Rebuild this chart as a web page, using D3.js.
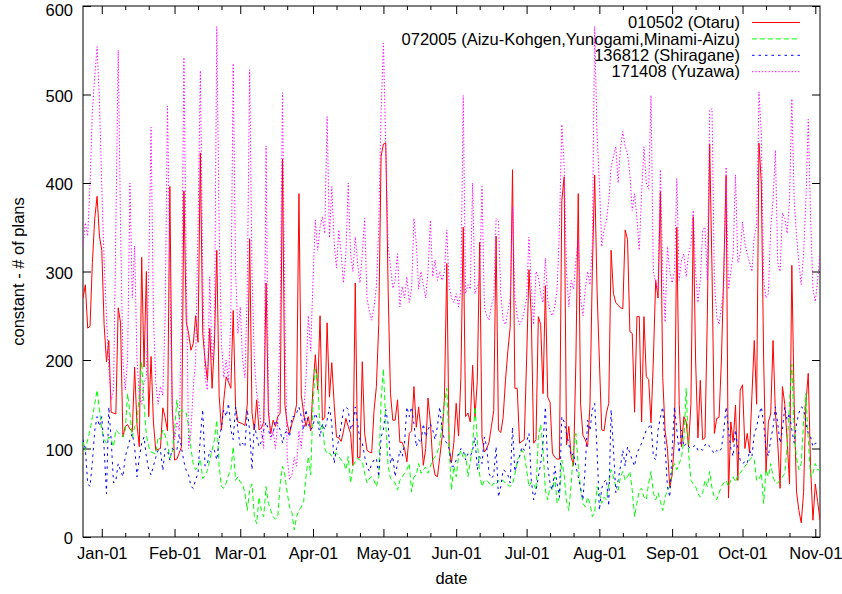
<!DOCTYPE html>
<html>
<head>
<meta charset="utf-8">
<script src="https://cdn.jsdelivr.net/npm/d3@7"></script>
<style>
  body { margin: 0; background: #fff; }
  svg { display: block; }
  text { font-family: "Liberation Sans", Arial, Helvetica, sans-serif; fill: #000; }
</style>
</head>
<body>
<svg id="chart" width="842" height="594"></svg>
<script>
// Daily number of plans per area, first day 2008-12-24
const firstDay = "2008-12-24";

const otaru = [
  270,285,236,238,310,360,385,340,324,240,
  198,222,141,140,139,259,242,113,125,127,
  122,119,192,127,102,316,192,300,136,204,
  130,98,99,100,146,135,120,396,150,87,
  88,95,102,391,243,230,211,219,250,220,
  434,230,200,177,236,168,219,324,160,121,
  155,181,175,168,256,147,130,129,128,126,
  150,337,140,121,155,121,123,130,287,140,
  117,132,125,136,140,427,150,128,117,128,
  136,150,388,160,140,125,136,120,170,206,
  166,250,132,135,242,158,197,151,113,112,
  108,120,134,125,117,81,287,90,90,198,
  117,98,96,95,143,170,240,430,444,445,
  280,162,132,132,155,107,107,100,85,117,
  120,170,124,147,120,81,100,157,130,85,
  70,68,90,113,158,309,100,84,107,151,
  114,180,350,136,140,130,194,135,177,333,
  113,96,100,107,125,143,340,121,118,135,
  177,210,237,415,168,168,106,108,110,200,
  302,249,106,110,249,240,162,284,158,152,
  95,90,88,88,380,407,104,125,90,81,
  200,388,150,115,110,102,149,300,409,280,
  200,121,120,140,151,324,275,265,262,259,
  258,347,336,232,230,141,249,249,130,249,
  181,178,129,200,290,270,390,180,120,100,
  56,70,110,350,150,102,136,130,102,150,
  362,200,112,177,110,112,250,444,300,117,
  134,135,200,300,408,44,130,107,149,64,
  166,172,100,117,95,160,222,150,445,400,
  200,73,130,139,222,140,106,55,170,150,
  110,60,307,150,51,30,16,50,151,185,
  78,19,60,40,19
];

const aizu = [
  108,98,110,121,136,150,166,144,121,110,
  106,113,110,102,121,118,115,113,120,162,
  140,113,125,128,162,198,150,115,102,96,
  95,94,113,110,121,115,106,89,95,120,
  155,133,144,140,140,125,100,82,76,80,
  88,66,70,75,87,98,110,132,80,57,
  55,61,70,76,102,64,68,62,60,49,
  30,53,60,23,15,45,30,23,57,38,
  30,23,20,23,60,80,70,50,34,28,
  8,23,30,34,40,68,91,70,150,190,
  177,121,128,100,94,95,91,94,95,91,
  87,85,76,91,61,80,85,89,87,85,
  72,61,66,68,64,57,68,155,190,128,
  80,66,64,61,53,64,68,72,76,83,
  51,68,70,83,72,76,79,72,80,87,
  91,96,105,128,150,168,100,53,80,68,
  91,98,90,94,68,85,102,147,110,70,
  57,64,64,61,57,61,59,64,62,64,
  60,59,57,60,70,87,91,98,94,76,
  57,62,60,53,113,127,100,53,42,57,
  53,68,38,45,87,70,40,30,60,100,
  117,80,55,38,34,45,38,23,28,57,
  50,38,45,42,60,76,68,57,53,68,
  74,64,68,74,53,23,38,53,55,45,
  42,61,74,50,42,50,40,30,45,53,
  57,76,83,76,83,90,110,168,95,64,
  60,57,49,45,50,64,57,74,55,45,
  42,50,57,61,64,57,64,68,62,70,
  72,76,80,83,87,90,87,64,65,72,
  38,76,68,83,68,61,61,64,68,72,
  102,150,195,120,89,76,83,130,162,110,
  68,72,83,76,76
];

const shiragane = [
  110,100,60,57,85,120,136,125,136,100,
  49,147,110,61,64,83,75,68,91,100,
  110,117,102,68,90,106,113,91,76,70,
  80,90,98,98,75,100,98,87,100,98,
  98,117,100,85,75,70,57,55,65,72,
  113,144,80,83,98,95,98,87,110,125,
  144,136,151,121,110,147,121,102,106,102,
  144,120,76,128,113,102,108,121,130,121,
  113,117,132,128,121,106,117,121,113,136,
  136,140,147,136,121,144,128,121,125,140,
  132,113,128,121,132,147,128,83,100,110,
  125,144,147,144,121,128,147,128,110,106,
  91,80,74,83,87,89,68,113,121,144,
  128,83,91,68,83,98,91,106,147,136,
  147,128,102,110,106,128,113,121,128,121,
  110,125,147,121,110,106,100,80,80,87,
  94,100,98,87,94,91,98,113,76,91,
  83,113,102,72,66,70,102,45,57,76,
  74,70,61,124,74,83,91,102,98,108,
  117,64,42,53,68,83,106,147,80,60,
  53,80,60,45,136,130,117,105,91,95,
  80,68,55,42,80,132,120,144,151,100,
  30,55,62,65,35,144,100,50,64,80,
  98,80,102,95,87,80,95,100,106,113,
  121,124,128,91,87,121,135,147,102,57,
  45,98,147,121,95,121,102,106,102,100,
  102,104,98,100,98,104,106,102,98,94,
  98,96,100,120,147,121,100,91,121,100,
  87,83,85,83,98,91,117,124,138,147,
  128,100,91,110,124,147,128,106,121,147,
  132,140,121,106,128,140,147,145,128,117,
  113,102,106,106,106
];

const yuzawa = [
  330,355,340,400,482,520,554,494,396,313,
  250,190,155,165,350,550,350,200,166,200,
  400,270,329,200,160,150,175,180,300,463,
  250,175,150,170,160,250,487,300,140,110,
  130,120,250,542,300,100,120,170,200,350,
  527,300,180,166,294,200,230,577,350,220,
  180,200,175,250,535,300,230,260,200,180,
  280,528,300,200,162,150,120,100,442,150,
  110,120,100,130,250,502,250,90,65,70,
  90,80,120,100,140,180,250,210,290,358,
  324,350,362,343,475,338,396,332,304,347,
  320,287,320,400,320,300,339,309,287,320,
  360,270,255,245,260,283,350,480,558,440,
  330,306,281,290,320,260,283,270,294,265,
  280,360,332,280,300,285,270,300,358,294,
  313,290,300,290,300,347,283,270,265,275,
  260,280,499,275,285,280,400,275,283,290,
  396,260,250,245,262,270,360,357,275,245,
  240,255,270,373,270,250,240,245,255,270,
  339,283,240,300,294,275,265,315,268,255,
  250,260,280,350,466,420,300,260,290,280,
  313,336,270,250,280,300,285,330,577,456,
  400,328,347,358,380,418,430,441,400,440,
  458,441,433,410,369,388,360,324,388,441,
  400,393,499,300,287,280,415,300,243,328,
  300,287,300,405,290,313,320,294,320,330,
  369,300,265,290,347,350,290,482,484,290,
  250,240,260,280,418,280,300,320,409,310,
  320,356,332,320,310,300,340,350,503,456,
  290,270,275,350,380,437,310,300,366,360,
  343,380,495,380,340,310,285,320,380,472,
  360,280,266,290,320
];

const seriesLabels = [
  "010502 (Otaru)",
  "072005 (Aizu-Kohgen,Yunogami,Minami-Aizu)",
  "136812 (Shiragane)",
  "171408 (Yuzawa)"
];
const yTickValues = [0, 100, 200, 300, 400, 500, 600];
const monthTickDates = [
  "2009-01-01","2009-02-01","2009-03-01","2009-04-01","2009-05-01","2009-06-01",
  "2009-07-01","2009-08-01","2009-09-01","2009-10-01","2009-11-01"
];
const xTitle = "date";
const yTitle = "constant - # of plans";

(function draw() {
  const svg = d3.select("#chart");
  const pLeft = 83, pRight = 820, pTop = 6, pBottom = 537;
  const fontSize = 16.5;

  const parse = d3.utcParse("%Y-%m-%d");
  const day0 = parse(firstDay);
  const dates = otaru.map((_, i) => d3.utcDay.offset(day0, i));

  const x = d3.scaleUtc()
    .domain([dates[0], dates[dates.length - 1]])
    .range([pLeft, pRight]);
  const y = d3.scaleLinear().domain([0, 600]).range([pBottom, pTop]);

  const majorX = monthTickDates.map(parse);
  // minor ticks on the 11th and 21st of each month inside the range
  const minorX = [];
  majorX.forEach(m => {
    [10, 20].forEach(k => {
      const d = d3.utcDay.offset(m, k);
      if (d <= x.domain()[1]) minorX.push(d);
    });
  });

  const fmt = d3.utcFormat("%b-%d");

  svg.append("g").attr("transform", `translate(0,${pBottom})`)
    .call(d3.axisBottom(x).tickValues(majorX).tickFormat(fmt)
      .tickSizeInner(-8).tickSizeOuter(0).tickPadding(10));
  svg.append("g").attr("transform", `translate(0,${pBottom})`)
    .call(d3.axisBottom(x).tickValues(minorX).tickFormat("")
      .tickSizeInner(-4).tickSizeOuter(0));
  svg.append("g").attr("transform", `translate(0,${pTop})`)
    .call(d3.axisTop(x).tickValues(majorX).tickFormat("")
      .tickSizeInner(-8).tickSizeOuter(0));
  svg.append("g").attr("transform", `translate(0,${pTop})`)
    .call(d3.axisTop(x).tickValues(minorX).tickFormat("")
      .tickSizeInner(-4).tickSizeOuter(0));
  const gy = svg.append("g").attr("transform", `translate(${pLeft},0)`)
    .call(d3.axisLeft(y).tickValues(yTickValues).tickFormat(d3.format("d"))
      .tickSizeInner(-8).tickSizeOuter(0).tickPadding(10));
  // keep the topmost label fully inside the canvas
  gy.selectAll(".tick text").attr("dy", d => d === 600 ? "0.55em" : "0.4em");
  svg.append("g").attr("transform", `translate(${pRight},0)`)
    .call(d3.axisRight(y).tickValues(yTickValues).tickFormat("")
      .tickSizeInner(-8).tickSizeOuter(0));

  svg.selectAll(".domain").remove();
  svg.selectAll(".tick line").attr("stroke", "#000").attr("stroke-width", 1);
  svg.selectAll(".tick text")
    .style("font-size", fontSize + "px")
    .style("font-family", '"Liberation Sans", Arial, sans-serif')
    .attr("fill", "#000");

  svg.append("rect")
    .attr("x", pLeft).attr("y", pTop)
    .attr("width", pRight - pLeft).attr("height", pBottom - pTop)
    .attr("fill", "none").attr("stroke", "#000").attr("stroke-width", 1);

  svg.append("text")
    .attr("x", (pLeft + pRight) / 2).attr("y", 584)
    .attr("text-anchor", "middle")
    .style("font-size", fontSize + "px")
    .text(xTitle);
  svg.append("text")
    .attr("transform", `translate(24,${(pTop + pBottom) / 2}) rotate(-90)`)
    .attr("text-anchor", "middle")
    .style("font-size", fontSize + "px")
    .text(yTitle);

  const series = [
    { values: otaru,     color: "#ff0000", dash: null },
    { values: aizu,      color: "#00ff00", dash: "5,3" },
    { values: shiragane, color: "#0000ff", dash: "2.5,4" },
    { values: yuzawa,    color: "#ff00ff", dash: "1.3,2" }
  ];

  svg.append("defs").append("clipPath").attr("id", "plotclip")
    .append("rect").attr("x", pLeft).attr("y", pTop)
    .attr("width", pRight - pLeft).attr("height", pBottom - pTop);

  const plot = svg.append("g").attr("clip-path", "url(#plotclip)");
  series.forEach(s => {
    const line = d3.line()
      .x((d, i) => x(dates[i]))
      .y(d => y(d));
    plot.append("path")
      .datum(s.values)
      .attr("d", line)
      .attr("fill", "none")
      .attr("stroke", s.color)
      .attr("stroke-width", 1)
      .attr("stroke-dasharray", s.dash);
  });

  const legend = svg.append("g");
  series.forEach((s, k) => {
    const yy = 22.5 + k * 16.4;
    legend.append("text")
      .attr("x", 740).attr("y", yy)
      .attr("dy", "0.35em")
      .attr("text-anchor", "end")
      .style("font-size", fontSize + "px")
      .text(seriesLabels[k]);
    legend.append("line")
      .attr("x1", 752).attr("x2", 800)
      .attr("y1", yy).attr("y2", yy)
      .attr("stroke", s.color).attr("stroke-width", 1)
      .attr("stroke-dasharray", s.dash);
  });
})();
</script>
</body>
</html>
